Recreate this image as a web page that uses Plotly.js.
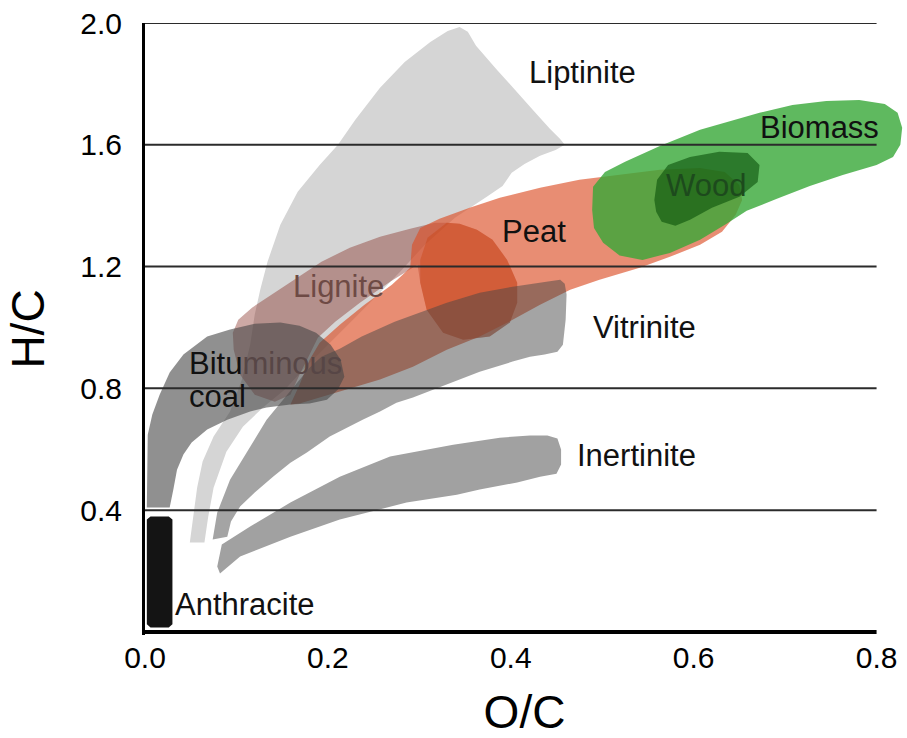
<!DOCTYPE html>
<html>
<head>
<meta charset="utf-8">
<script src="https://cdn.plot.ly/plotly-3.0.1.min.js"></script>
<style>
  html, body { margin: 0; padding: 0; background: #fff; }
  #chart { width: 907px; height: 738px; }
</style>
</head>
<body>
<div id="chart"></div>
<script>
// Van Krevelen diagram: atomic H/C ratio against O/C ratio for solid fuels

const xTicks = [0, 0.2, 0.4, 0.6, 0.8];
const xTickText = ['0.0', '0.2', '0.4', '0.6', '0.8'];
const yTicks = [0.4, 0.8, 1.2, 1.6, 2.0];
const yTickText = ['0.4', '0.8', '1.2', '1.6', '2.0'];

// Region outlines, O/C (x) and H/C (y)
const liptiniteOC = [0.049,0.053,0.057,0.063,0.075,0.093,0.106,0.115,0.120,0.126,0.134,0.148,0.167,0.191,0.211,0.230,0.257,0.284,0.312,0.331,0.344,0.353,0.362,0.385,0.403,0.424,0.443,0.454,0.459,0.449,0.432,0.415,0.401,0.391,0.375,0.339,0.306,0.279,0.246,0.208,0.175,0.153,0.129,0.107,0.089,0.075,0.069,0.065];
const liptiniteHC = [0.294,0.386,0.474,0.560,0.642,0.724,0.829,0.943,1.042,1.124,1.216,1.337,1.446,1.534,1.600,1.682,1.787,1.872,1.938,1.974,1.987,1.971,1.925,1.846,1.787,1.715,1.652,1.619,1.600,1.583,1.564,1.537,1.508,1.465,1.432,1.360,1.272,1.183,1.081,0.966,0.868,0.796,0.737,0.674,0.592,0.474,0.376,0.294];

const inertiniteOC = [0.079,0.084,0.115,0.159,0.213,0.268,0.337,0.388,0.421,0.440,0.451,0.455,0.455,0.450,0.432,0.407,0.366,0.341,0.286,0.213,0.159,0.104,0.082];
const inertiniteHC = [0.215,0.287,0.346,0.425,0.510,0.576,0.615,0.638,0.645,0.645,0.635,0.599,0.550,0.520,0.510,0.491,0.468,0.451,0.425,0.369,0.313,0.248,0.192];

const bituminousOC = [0.002,0.027,0.031,0.035,0.042,0.051,0.068,0.090,0.115,0.133,0.159,0.180,0.199,0.211,0.218,0.214,0.203,0.187,0.169,0.148,0.120,0.093,0.068,0.042,0.027,0.016,0.008,0.003];
const bituminousHC = [0.409,0.409,0.468,0.533,0.583,0.622,0.665,0.697,0.724,0.737,0.747,0.750,0.763,0.796,0.838,0.894,0.943,0.983,1.006,1.016,1.012,0.993,0.970,0.911,0.852,0.779,0.714,0.648];

const ligniteOC = [0.096,0.102,0.117,0.139,0.166,0.193,0.224,0.257,0.290,0.317,0.330,0.344,0.363,0.380,0.396,0.407,0.407,0.399,0.377,0.348,0.326,0.308,0.301,0.298,0.268,0.235,0.208,0.189,0.180,0.169,0.159,0.142,0.120,0.104,0.097];
const ligniteHC = [0.983,1.025,1.065,1.108,1.163,1.216,1.262,1.298,1.324,1.344,1.344,1.341,1.321,1.288,1.222,1.147,1.081,1.016,0.970,0.960,0.983,1.058,1.147,1.206,1.150,1.081,1.019,0.966,0.911,0.845,0.779,0.756,0.779,0.845,0.927];

const peatOC = [0.159,0.169,0.180,0.191,0.213,0.240,0.270,0.290,0.292,0.301,0.322,0.355,0.388,0.432,0.475,0.519,0.563,0.607,0.634,0.650,0.653,0.646,0.631,0.607,0.574,0.541,0.497,0.465,0.432,0.402,0.366,0.330,0.293,0.257,0.221,0.191,0.169];
const peatHC = [0.747,0.812,0.894,0.950,1.009,1.075,1.140,1.196,1.272,1.327,1.357,1.393,1.426,1.459,1.485,1.501,1.518,1.524,1.511,1.468,1.419,1.370,1.314,1.272,1.232,1.196,1.157,1.124,1.075,1.025,0.970,0.927,0.871,0.829,0.796,0.770,0.750];

// where the lignite and peat fields overlap most strongly
const overlapOC = [0.330,0.344,0.363,0.380,0.396,0.407,0.407,0.399,0.377,0.348,0.326,0.308,0.301,0.301,0.309];
const overlapHC = [1.344,1.341,1.321,1.288,1.222,1.147,1.081,1.016,0.970,0.960,0.983,1.058,1.147,1.222,1.295];

const vitriniteOC = [0.074,0.079,0.093,0.115,0.133,0.151,0.166,0.180,0.193,0.213,0.237,0.273,0.303,0.330,0.366,0.402,0.439,0.454,0.459,0.461,0.460,0.457,0.451,0.437,0.421,0.402,0.366,0.330,0.293,0.275,0.257,0.238,0.202,0.177,0.159,0.140,0.120,0.104,0.094,0.090];
const vitriniteHC = [0.304,0.392,0.500,0.609,0.697,0.763,0.819,0.868,0.904,0.930,0.970,1.019,1.052,1.081,1.114,1.134,1.150,1.157,1.144,1.108,1.025,0.943,0.920,0.911,0.904,0.888,0.855,0.812,0.770,0.753,0.724,0.697,0.642,0.589,0.556,0.510,0.458,0.412,0.363,0.313];

const biomassOC = [0.490,0.489,0.491,0.501,0.519,0.544,0.574,0.607,0.636,0.658,0.691,0.727,0.763,0.800,0.818,0.826,0.828,0.823,0.809,0.781,0.745,0.708,0.672,0.636,0.607,0.563,0.525,0.503];
const biomassHC = [1.462,1.386,1.327,1.278,1.236,1.222,1.245,1.288,1.341,1.383,1.423,1.465,1.501,1.534,1.560,1.600,1.656,1.705,1.734,1.747,1.744,1.731,1.705,1.675,1.649,1.596,1.544,1.511];

const woodOC = [0.557,0.560,0.572,0.596,0.628,0.659,0.672,0.670,0.650,0.620,0.596,0.580,0.565,0.559];
const woodHC = [1.419,1.485,1.534,1.560,1.577,1.573,1.534,1.478,1.429,1.393,1.354,1.334,1.347,1.380];

const anthraciteOC = [0.006,0.026,0.030,0.030,0.026,0.006,0.002,0.002];
const anthraciteHC = [0.379,0.379,0.369,0.025,0.015,0.015,0.025,0.369];

// Region labels
const labelText = ['Liptinite', 'Biomass', 'Wood', 'Peat', 'Lignite', 'Vitrinite', 'Inertinite'];
const labelOC = [0.478, 0.738, 0.614, 0.425, 0.212, 0.546, 0.538];
const labelHC = [1.836, 1.656, 1.465, 1.314, 1.134, 0.999, 0.579];
const labelColor = ['#111', '#111', '#1d4a1d', '#111', '#6e4a45', '#111', '#111'];
const leftLabelText = ['<span style="color:#111">Bitu</span><span style="color:#574646">minous</span>', 'coal', 'Anthracite'];
const leftLabelOC = [0.046, 0.046, 0.031];
const leftLabelHC = [0.883, 0.773, 0.090];

// drawing order, back to front
const regions = [
  { x: liptiniteOC,  y: liptiniteHC,  fill: '#d5d5d5' },
  { x: inertiniteOC, y: inertiniteHC, fill: '#a1a1a1' },
  { x: ligniteOC,    y: ligniteHC,    fill: 'rgba(130,40,30,0.4)' },
  { x: peatOC,       y: peatHC,       fill: 'rgba(220,80,40,0.65)' },
  { x: overlapOC,    y: overlapHC,    fill: 'rgba(200,60,10,0.35)' },
  { x: bituminousOC, y: bituminousHC, fill: 'rgba(70,70,70,0.6)' },
  { x: vitriniteOC,  y: vitriniteHC,  fill: 'rgba(70,70,70,0.49)' },
  { x: biomassOC,    y: biomassHC,    fill: 'rgba(55,168,55,0.8)' },
  { x: woodOC,       y: woodHC,       fill: 'rgba(10,80,10,0.6)' },
  { x: anthraciteOC, y: anthraciteHC, fill: '#141414' }
];

const traces = regions.map(r => ({
  type: 'scatter',
  mode: 'lines',
  x: r.x,
  y: r.y,
  fill: 'toself',
  fillcolor: r.fill,
  line: { width: 0, color: 'rgba(0,0,0,0)' },
  hoverinfo: 'skip',
  showlegend: false
}));

const font = 'Liberation Sans, Arial, Helvetica, sans-serif';

const annotations = labelText.map((t, i) => ({
  x: labelOC[i], y: labelHC[i], xref: 'x', yref: 'y',
  text: t, showarrow: false, xanchor: 'center', yanchor: 'middle',
  font: { family: font, size: 31, color: labelColor[i] }
})).concat(leftLabelText.map((t, i) => ({
  x: leftLabelOC[i], y: leftLabelHC[i], xref: 'x', yref: 'y',
  text: t, showarrow: false, xanchor: 'left', yanchor: 'middle',
  font: { family: font, size: 31, color: '#111' }
})));

// horizontal grid drawn over the regions, plus the bottom axis line
const lastX = xTicks[xTicks.length - 1];
const shapes = yTicks.map(v => ({
  type: 'line', xref: 'x', yref: 'y', x0: xTicks[0], x1: lastX, y0: v, y1: v,
  line: { color: '#2b2b2b', width: 2 }, layer: 'above'
}));
shapes.push({
  type: 'line', xref: 'x', yref: 'y', x0: xTicks[0], x1: lastX, y0: 0, y1: 0,
  line: { color: '#000', width: 4 }, layer: 'above'
});

const layout = {
  width: 907,
  height: 738,
  margin: { l: 145, r: 3, t: 23, b: 103 },
  paper_bgcolor: '#fff',
  plot_bgcolor: '#fff',
  font: { family: font, color: '#000' },
  showlegend: false,
  xaxis: {
    range: [0, 0.83],
    tickvals: xTicks,
    ticktext: xTickText,
    ticks: '',
    ticklabelstandoff: 2,
    tickfont: { family: font, size: 30, color: '#000' },
    showgrid: false,
    zeroline: false,
    showline: false,
    title: { text: 'O/C', font: { family: font, size: 46, color: '#000' }, standoff: 24 }
  },
  yaxis: {
    range: [-0.01, 2.0],
    tickvals: yTicks,
    ticktext: yTickText,
    ticks: '',
    ticklabelstandoff: 14,
    tickfont: { family: font, size: 30, color: '#000' },
    showgrid: false,
    zeroline: false,
    showline: true,
    linecolor: '#000',
    linewidth: 3,
    title: { text: 'H/C', font: { family: font, size: 46, color: '#000' }, standoff: 22 }
  },
  shapes: shapes,
  annotations: annotations
};

Plotly.newPlot('chart', traces, layout, { displayModeBar: false, staticPlot: true });
</script>
</body>
</html>
